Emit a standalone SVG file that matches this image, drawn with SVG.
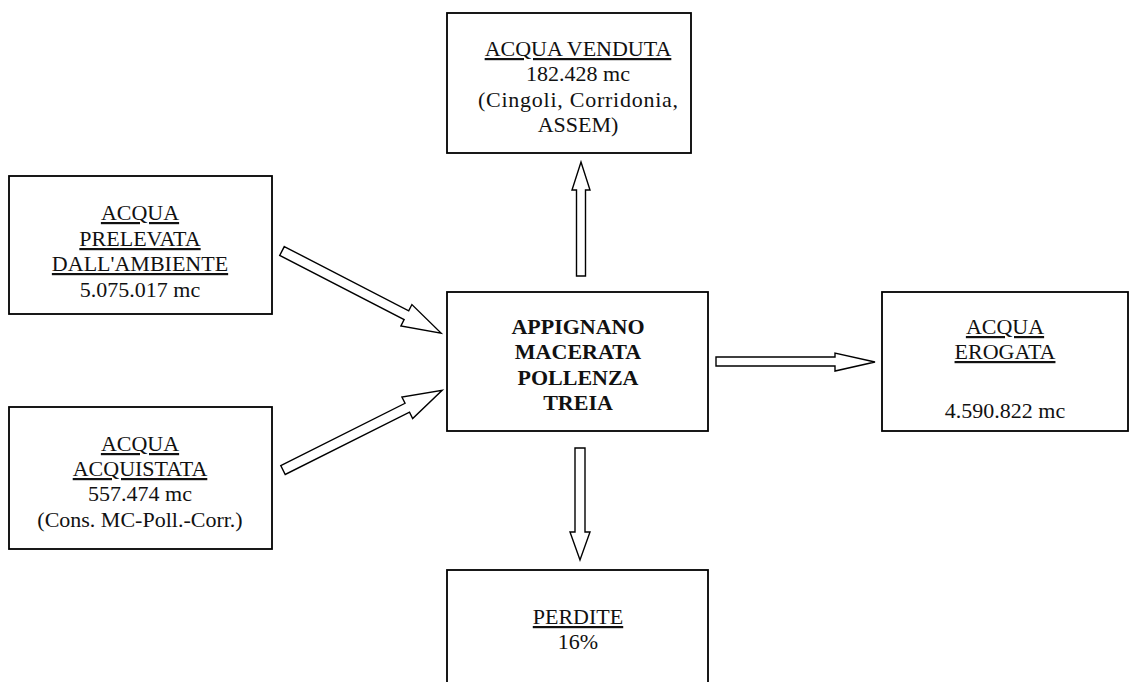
<svg xmlns="http://www.w3.org/2000/svg" width="1133" height="682" viewBox="0 0 1133 682">
<style>
.box{fill:#fff;stroke:#000;stroke-width:1.8}
.arr{fill:#fff;stroke:#000;stroke-width:1.4;stroke-linejoin:miter}
text{font-family:"Liberation Serif","Times New Roman",serif;font-size:22px;fill:#111;text-anchor:middle}
.u{text-decoration:underline}
.b{font-weight:bold}
</style>
<rect width="1133" height="682" fill="#fff"/>
<g id="connectors">
<polygon class="arr" points="576.5,276 576.5,190 572,190 581,162 590,190 585.5,190 585.5,276"/>
<polygon class="arr" points="575,448 585,448 585,532 590,532 580,560 570,532 575,532"/>
<polygon class="arr" points="716,357 835,357 835,353 875,362 835,371 835,366 716,366"/>
<polygon class="arr" transform="translate(282,251) rotate(27.3)" points="0,-5 140,-5 140,-12 179,0 140,12 140,5 0,5"/>
<polygon class="arr" transform="translate(283,470) rotate(-26.6)" points="0,-5 139,-5 139,-12 178,0 139,12 139,5 0,5"/>
</g>
<g id="venduta">
<rect class="box" x="447" y="13" width="244" height="140"/>
<text x="578" y="56" class="u">ACQUA VENDUTA</text>
<text x="578" y="81">182.428 mc</text>
<text x="578" y="107" textLength="200">(Cingoli, Corridonia,</text>
<text x="578" y="132">ASSEM)</text>
</g>
<g id="prelevata">
<rect class="box" x="9" y="176" width="263" height="138"/>
<text x="140" y="220" class="u">ACQUA</text>
<text x="140" y="246" class="u">PRELEVATA</text>
<text x="140" y="271" class="u">DALL'AMBIENTE</text>
<text x="140" y="297">5.075.017 mc</text>
</g>
<g id="acquistata">
<rect class="box" x="9" y="407" width="263" height="142"/>
<text x="140" y="451" class="u">ACQUA</text>
<text x="140" y="476" class="u">ACQUISTATA</text>
<text x="140" y="501">557.474 mc</text>
<text x="140" y="527">(Cons. MC-Poll.-Corr.)</text>
</g>
<g id="centro">
<rect class="box" x="447" y="292" width="261" height="139"/>
<text x="578" y="334" class="b">APPIGNANO</text>
<text x="578" y="359" class="b">MACERATA</text>
<text x="578" y="385" class="b">POLLENZA</text>
<text x="578" y="410" class="b">TREIA</text>
</g>
<g id="erogata">
<rect class="box" x="882" y="292" width="246" height="139"/>
<text x="1005" y="334" class="u">ACQUA</text>
<text x="1005" y="359" class="u">EROGATA</text>
<text x="1005" y="418">4.590.822 mc</text>
</g>
<g id="perdite">
<rect class="box" x="447" y="570" width="261" height="130"/>
<text x="578" y="624" class="u">PERDITE</text>
<text x="578" y="649">16%</text>
</g>
</svg>
